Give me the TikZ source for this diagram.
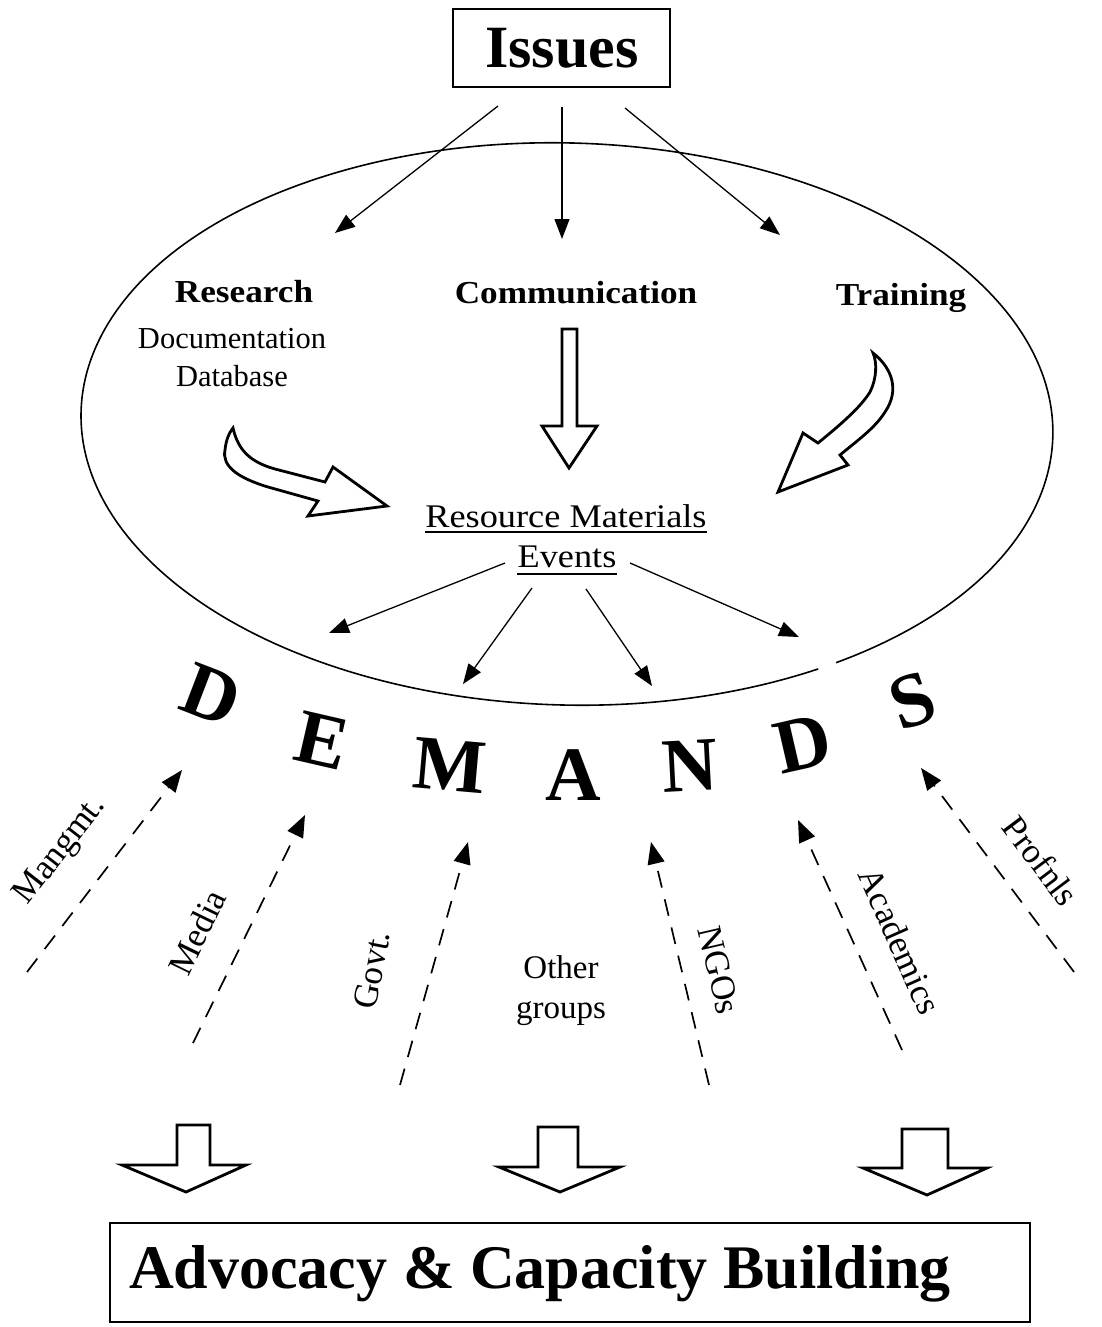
\documentclass[tikz,border=0pt]{standalone}
\usepackage{fontspec}
\setmainfont{Liberation Serif}
\newfontfamily\widefont[FakeStretch=1.1]{Liberation Serif}
\usetikzlibrary{arrows.meta}

\tikzset{
  linkarrow/.style={line width=1.3pt,-{Triangle[length=20pt,width=15pt]}},
  demandarrow/.style={line width=1.7pt,dash pattern=on 17pt off 12pt,-{Triangle[length=22pt,width=17pt]}},
  blockarrow/.style={line width=2.8pt,draw=black,fill=white,line join=miter},
  headtxt/.style={inner sep=0pt,anchor=base,font=\widefont\bfseries\fontsize{32}{32}\selectfont},
  subtxt/.style={inner sep=0pt,anchor=base,font=\fontsize{30.5}{30.5}\selectfont},
  restxt/.style={inner sep=0pt,anchor=base,font=\widefont\fontsize{33}{33}\selectfont},
  letter/.style={inner sep=0pt,font=\bfseries\fontsize{77}{77}\selectfont},
  grouptxt/.style={inner sep=0pt,font=\fontsize{35}{35}\selectfont},
  underl/.style={line width=2.4pt},
}

\begin{document}
\begin{tikzpicture}[x=1pt,y=-1pt]
\fill[white] (0,0) rectangle (1102,1327);
\useasboundingbox (0,0) rectangle (1102,1327);

% top box
\node[draw,line width=1.6pt,minimum width=217pt,minimum height=78pt,inner sep=0pt] (issuesbox) at (561.5,48) {};
\node[inner sep=0pt,anchor=base,font=\bfseries\fontsize{60}{60}\selectfont] (issues) at (562,68) {Issues};

% ellipse, slightly tilted, with the small break at lower right
\coordinate (ctr) at (567,424);
\draw[line width=1.6pt,rotate around={-1.5:(ctr)}] (824.5,662.3)
  arc[start angle=58,end angle=415.5,x radius=486,y radius=281];

% three activities
\node[headtxt] (research) at (244,302) {Research};
\node[headtxt] (comm) at (576,303) {Communication};
\node[headtxt] (training) at (901,305) {Training};
\node[subtxt] (doc) at (232,348) {Documentation};
\node[subtxt] (dbase) at (232,386) {Database};

% arrows from the top box
\coordinate (i1) at (498,106);
\coordinate (i2) at (562,107);
\coordinate (i3) at (625,108);
\coordinate (r1) at (335,233);
\coordinate (r2) at (562,239);
\coordinate (r3) at (780,235);
\draw[linkarrow] (i1) -- (r1);
\draw[linkarrow] (i2) -- (r2);
\draw[linkarrow] (i3) -- (r3);

% block arrows into the centre
\path[blockarrow] (233,428) .. controls (238,450) and (250,462) .. (275,469)
  -- (325,482) -- (333,467) -- (387,506) -- (308,516) -- (318,501) -- (268,487)
  .. controls (235,477) and (222,465) .. (225,450)
  .. controls (226,440) and (229,433) .. (233,428) -- cycle;
\path[blockarrow] (562,329) -- (577,329) -- (577,426) -- (597,426) -- (569,468)
  -- (542,426) -- (562,426) -- cycle;
\path[blockarrow] (873,353) .. controls (892,368) and (900,390) .. (885,412)
  .. controls (875,428) and (858,440) .. (840,455) -- (848,465) -- (778,492)
  -- (803,433) -- (818,443) .. controls (840,425) and (860,408) .. (870,392)
  .. controls (877,378) and (877,362) .. (873,353) -- cycle;

% resource materials
\node[restxt] (resmat) at (566,527) {Resource Materials};
\node[restxt] (events) at (567,567) {Events};
\draw[underl] ([yshift=-5pt]resmat.base west) -- ([yshift=-5pt]resmat.base east);
\draw[underl] ([yshift=-7pt]events.base west) -- ([yshift=-7pt]events.base east);

% arrows out to the demands
\coordinate (e1) at (505,563);
\coordinate (e2) at (532,588);
\coordinate (e3) at (586,589);
\coordinate (e4) at (630,563);
\coordinate (d1) at (329,633);
\coordinate (d2) at (463,684);
\coordinate (d3) at (652,686);
\coordinate (d4) at (799,637);
\draw[linkarrow] (e1) -- (d1);
\draw[linkarrow] (e2) -- (d2);
\draw[linkarrow] (e3) -- (d3);
\draw[linkarrow] (e4) -- (d4);

% DEMANDS along an arc
\node[letter,rotate=-21] (L1) at (211,695) {D};
\node[letter,rotate=-13] (L2) at (322,741) {E};
\node[letter,rotate=-5] (L3) at (450,766) {M};
\node[letter] (L4) at (573,775) {A};
\node[letter,rotate=3] (L5) at (690,766) {N};
\node[letter,rotate=13] (L6) at (803,744) {D};
\node[letter,rotate=19] (L7) at (913,701) {S};

% dashed arrows from the groups
\coordinate (g1) at (27,972);   \coordinate (t1) at (182,770);
\coordinate (g2) at (193,1043); \coordinate (t2) at (305,815);
\coordinate (g3) at (400,1085); \coordinate (t3) at (468,842);
\coordinate (g4) at (709,1085); \coordinate (t4) at (651,842);
\coordinate (g5) at (902,1050); \coordinate (t5) at (798,820);
\coordinate (g6) at (1074,972); \coordinate (t6) at (921,768);
\draw[demandarrow] (g1) -- (t1);
\draw[demandarrow] (g2) -- (t2);
\draw[demandarrow] (g3) -- (t3);
\draw[demandarrow] (g4) -- (t4);
\draw[demandarrow] (g5) -- (t5);
\draw[demandarrow] (g6) -- (t6);

\node[grouptxt,rotate=52] (mangmt) at (61,851) {Mangmt.};
\node[grouptxt,rotate=64] (media) at (197,932) {Media};
\node[grouptxt,rotate=79] (govt) at (372,970) {Govt.};
\node[grouptxt,anchor=base,font=\fontsize{33}{33}\selectfont] (other) at (561,978) {Other};
\node[grouptxt,anchor=base,font=\fontsize{33}{33}\selectfont] (groups) at (561,1018) {groups};
\node[grouptxt,rotate=-77] (ngos) at (719,970) {NGOs};
\node[grouptxt,rotate=-66] (acad) at (900,941) {Academics};
\node[grouptxt,rotate=-53] (profnls) at (1041,861) {Profnls};

% block arrows down to the bottom box
\path[blockarrow] (177,1125) -- (210,1125) -- (210,1165) -- (246,1165) -- (186,1192)
  -- (122,1165) -- (177,1165) -- cycle;
\path[blockarrow] (538,1127) -- (578,1127) -- (578,1167) -- (620,1167) -- (560,1192)
  -- (499,1167) -- (538,1167) -- cycle;
\path[blockarrow] (902,1129) -- (948,1129) -- (948,1168) -- (987,1168) -- (927,1195)
  -- (863,1168) -- (902,1168) -- cycle;

% bottom box
\node[draw,line width=1.6pt,minimum width=920pt,minimum height=99pt,inner sep=0pt] (advbox) at (570,1272.5) {};
\node[inner sep=0pt,anchor=base,font=\bfseries\fontsize{62}{62}\selectfont] (advtext) at (540,1288) {Advocacy \& Capacity Building};
\end{tikzpicture}
\end{document}
